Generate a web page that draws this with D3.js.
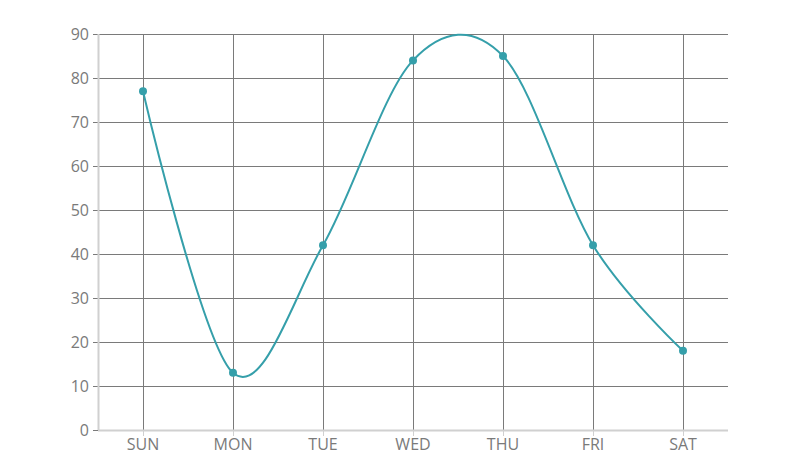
<!DOCTYPE html>
<html>
<head>
<meta charset="utf-8">
<script src="https://cdn.jsdelivr.net/npm/d3@7"></script>
<style>
  body { margin: 0; background: #fff; overflow: hidden; }
  svg { display: block; }
  text { font-family: "Open Sans", "Noto Sans", sans-serif; fill: #7a7a7a; }
</style>
</head>
<body>
<div class="lineChart"></div>
<script>
const days = ["SUN", "MON", "TUE", "WED", "THU", "FRI", "SAT"];
const values = [77, 13, 42, 84, 85, 42, 18];
const yTicks = [0, 10, 20, 30, 40, 50, 60, 70, 80, 90];

let width = 801, height = 463;
let margin = { top: 34, bottom: 33, left: 98, right: 73 };
let innerWidth = width - margin.left - margin.right;
let innerHeight = height - margin.top - margin.bottom;

let svg = d3.select(".lineChart").append("svg")
    .attr("width", width)
    .attr("height", height);

let chart = svg.append("g")
    .attr("transform", "translate(" + margin.left + "," + margin.top + ")");

let x = d3.scaleBand().domain(days).range([0, innerWidth]);
let y = d3.scaleLinear().domain([0, 90]).range([innerHeight, 0]);
let cx = d => x(d) + x.bandwidth() / 2;

// horizontal grid lines (with the little tick to the left)
chart.selectAll(".hGrid")
    .data(yTicks.slice(1))
    .enter()
        .append("line")
        .attr("x1", -5)
        .attr("x2", innerWidth)
        .attr("y1", d => Math.round(y(d)) + 0.5)
        .attr("y2", d => Math.round(y(d)) + 0.5)
        .attr("stroke", "#7a7a7a");

// vertical grid lines at each category
chart.selectAll(".vGrid")
    .data(days)
    .enter()
        .append("line")
        .attr("x1", d => Math.round(cx(d)) + 0.5)
        .attr("x2", d => Math.round(cx(d)) + 0.5)
        .attr("y1", 0)
        .attr("y2", innerHeight)
        .attr("stroke", "#7a7a7a");

// axes
chart.append("line")
    .attr("x1", 0.5).attr("x2", 0.5)
    .attr("y1", 0).attr("y2", innerHeight)
    .attr("stroke", "#d0d0d0").attr("stroke-width", 2);

chart.append("line")
    .attr("x1", -5).attr("x2", 0)
    .attr("y1", innerHeight + 0.5).attr("y2", innerHeight + 0.5)
    .attr("stroke", "#7a7a7a");

chart.append("line")
    .attr("x1", 0).attr("x2", innerWidth)
    .attr("y1", innerHeight + 0.5).attr("y2", innerHeight + 0.5)
    .attr("stroke", "#d0d0d0").attr("stroke-width", 2);

chart.selectAll(".xTick")
    .data(days)
    .enter()
        .append("line")
        .attr("x1", d => Math.round(cx(d)) + 0.5)
        .attr("x2", d => Math.round(cx(d)) + 0.5)
        .attr("y1", innerHeight)
        .attr("y2", innerHeight + 6)
        .attr("stroke", "#d0d0d0");

// tick labels
chart.selectAll(".yLabel")
    .data(yTicks)
    .enter()
        .append("text")
        .text(d => d)
        .attr("x", -9)
        .attr("y", d => y(d))
        .attr("dy", "0.35em")
        .attr("text-anchor", "end")
        .style("font-size", "16px");

chart.selectAll(".xLabel")
    .data(days)
    .enter()
        .append("text")
        .text(d => d)
        .attr("x", d => cx(d))
        .attr("y", innerHeight + 20)
        .attr("text-anchor", "middle")
        .style("font-size", "16px");

// the series
let line = d3.line()
    .x((d, i) => cx(days[i]))
    .y(d => y(d))
    .curve(d3.curveCardinal);

chart.append("path")
    .datum(values)
    .attr("d", line)
    .attr("fill", "none")
    .attr("stroke", "#359faa")
    .attr("stroke-width", 2);

chart.selectAll(".point")
    .data(values)
    .enter()
        .append("circle")
        .attr("cx", (d, i) => cx(days[i]))
        .attr("cy", d => y(d))
        .attr("r", 4)
        .attr("fill", "#359faa");
</script>
</body>
</html>
